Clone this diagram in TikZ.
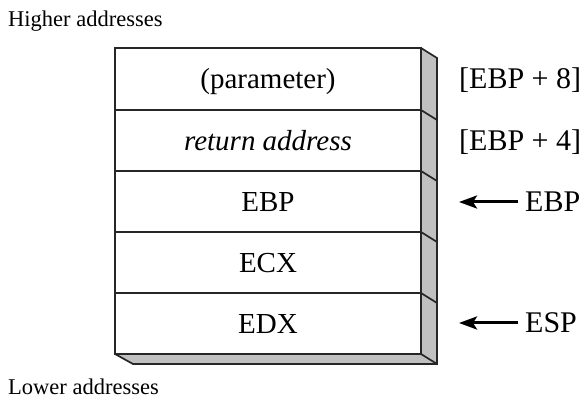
\documentclass[tikz,border=0pt]{standalone}
\usepackage{fontspec}
\setmainfont{Liberation Serif}
\usetikzlibrary{arrows.meta}
\definecolor{sidegray}{RGB}{192,192,192}
\begin{document}
\begin{tikzpicture}[x=1pt,y=-1pt,
  edge/.style={draw=black!85,line width=1.7pt,line join=miter},
  boxtext/.style={font=\fontsize{29}{33}\selectfont,anchor=base,inner sep=0pt},
  sidetext/.style={font=\fontsize{30}{33}\selectfont,anchor=base west,inner sep=0pt},
  notetext/.style={font=\fontsize{22.5}{26}\selectfont,anchor=base west,inner sep=0pt},
  ptr/.style={line width=3pt,-{Stealth[length=18pt,width=13pt,inset=4pt]}}]
\useasboundingbox (0,0) rectangle (584,403);
% side and bottom faces
\fill[sidegray] (421,48) -- (437,58) -- (437,364) -- (421,354) -- cycle;
\fill[sidegray] (115,354) -- (421,354) -- (437,364) -- (133,364) -- cycle;
\draw[edge] (421,48) -- (437,58) -- (437,364) -- (133,364) -- (115,354);
\draw[edge] (421,354) -- (437,364);
\foreach \y in {110,171,232,293} {
  \draw[edge] (421,\y) -- (437,\y+10);
}
% front face
\draw[edge,fill=white] (115,48) rectangle (421,354);
\foreach \y in {110,171,232,293} {
  \draw[edge] (115,\y) -- (421,\y);
}
% texts in boxes
\node[boxtext] (p) at (268,89) {(parameter)};
\node[boxtext] (r) at (268,150.5) {\itshape return address};
\node[boxtext] (b) at (268,211.5) {EBP};
\node[boxtext] (c) at (268,272.5) {ECX};
\node[boxtext] (d) at (268,334) {EDX};
% right labels
\node[sidetext] (l8) at (459,89) {[EBP + 8]};
\node[sidetext] (l4) at (459,150.5) {[EBP + 4]};
\node[sidetext] (lebp) at (525,212) {EBP};
\node[sidetext] (lesp) at (525,333) {ESP};
\coordinate (aebp) at (459,202);
\coordinate (aesp) at (459,323);
\draw[ptr] (lebp.west |- aebp) ++(-7,0) -- (aebp);
\draw[ptr] (lesp.west |- aesp) ++(-7,0) -- (aesp);
% notes
\node[notetext] (hi) at (8,27) {Higher addresses};
\node[notetext] (lo) at (8,395) {Lower addresses};
\end{tikzpicture}
\end{document}
